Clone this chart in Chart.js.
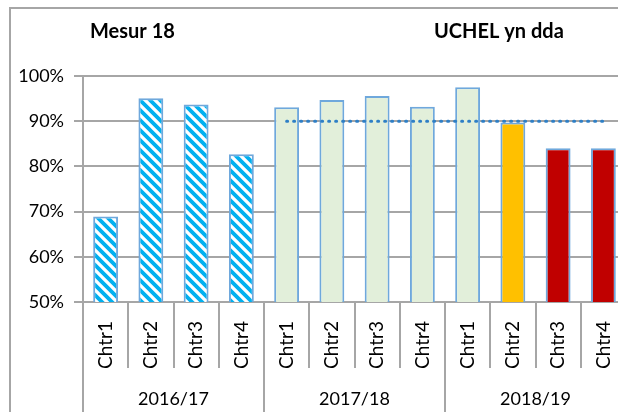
<!DOCTYPE html>
<html>
<head>
<meta charset="utf-8">
<script src="https://cdn.jsdelivr.net/npm/chart.js@4.4.0/dist/chart.umd.min.js"></script>
<style>
    html, body { margin: 0; padding: 0; background: #fff; overflow: hidden; width: 618px; height: 412px; }
    #wrap { width: 640px; height: 420px; }
</style>
</head>
<body>
<div id="wrap"><canvas id="barChart" width="640" height="420"></canvas></div>
<script>
// data
const years = ['2016/17', '2017/18', '2018/19'];
const quarters = ['Chtr1', 'Chtr2', 'Chtr3', 'Chtr4'];
const values = [68.9, 95.1, 93.7, 82.7, 93.1, 94.7, 95.6, 93.2, 97.5, 89.7, 84.0, 84.0];
const target = [null, null, null, null, 90, 90, 90, 90, 90, 90, 90, 90];
const yTicks = [50, 60, 70, 80, 90, 100];
const titleLeft = 'Mesur 18';
const titleRight = 'UCHEL yn dda';

const labels = years.flatMap(() => quarters);

// striped fill for the first year
function hatch() {
    const n = 10;
    const c = document.createElement('canvas');
    c.width = n; c.height = n;
    const g = c.getContext('2d');
    g.fillStyle = '#fff';
    g.fillRect(0, 0, n, n);
    g.strokeStyle = '#00B0F0';
    g.lineWidth = 3.8;
    g.beginPath();
    for (let k = -1; k <= 1; k++) {
        g.moveTo(-2, -2 + k * n);
        g.lineTo(n + 2, n + 2 + k * n);
    }
    g.stroke();
    return g.createPattern(c, 'repeat');
}

const ctx = document.getElementById('barChart').getContext('2d');
const stripes = hatch();
const fills = values.map((v, i) => {
    if (i < 4) return stripes;
    if (i < 9) return '#E2EFDA';
    if (i === 9) return '#FFC000';
    return '#C00000';
});

Chart.defaults.font.family = 'Lato, "Noto Sans", sans-serif';
Chart.defaults.color = '#000';

const grey = '#A6A6A6';

// outer frame, label separators and the two headings
const frame = {
    id: 'frame',
    beforeDraw(chart) {
        const c = chart.ctx;
        c.save();
        c.fillStyle = '#fff';
        c.fillRect(0, 0, chart.width, chart.height);
        c.strokeStyle = grey;
        c.lineWidth = 2;
        c.strokeRect(10, 8, chart.width + 20, chart.height + 20);
        c.restore();
    },
    afterDraw(chart) {
        const c = chart.ctx;
        const xs = chart.scales.x;
        const area = chart.chartArea;
        const w = xs.getPixelForValue(1) - xs.getPixelForValue(0);
        c.save();
        c.strokeStyle = grey;
        c.lineWidth = 2;
        c.beginPath();
        for (let i = 0; i <= labels.length; i++) {
            const bx = Math.round(xs.getPixelForValue(0) - w / 2 + i * w);
            const end = (i % quarters.length === 0) ? chart.height : xs.bottom;
            c.moveTo(bx, area.bottom);
            c.lineTo(bx, end);
        }
        c.stroke();

        c.fillStyle = '#000';
        c.font = 'bold 20px Lato, "Noto Sans", sans-serif';
        c.textBaseline = 'middle';
        c.fillText(titleLeft, 90, 32);
        c.fillText(titleRight, 434, 32);
        c.restore();
    }
};

new Chart(ctx, {
    type: 'bar',
    data: {
        labels: labels,
        datasets: [
            {
                type: 'line',
                data: target,
                borderColor: '#2E7FC6',
                borderWidth: 3,
                borderDash: [1, 6],
                borderCapStyle: 'round',
                pointRadius: 0,
                order: 0
            },
            {
                data: values,
                backgroundColor: fills,
                borderColor: '#6FA8DC',
                borderWidth: 2,
                barPercentage: 0.55,
                categoryPercentage: 1,
                order: 1
            }
        ]
    },
    options: {
        responsive: false,
        animation: false,
        layout: { padding: { left: 10, top: 76, right: 14, bottom: 0 } },
        plugins: { legend: { display: false }, tooltip: { enabled: false } },
        scales: {
            x: {
                offset: true,
                grid: { display: false },
                border: { color: grey, width: 2 },
                ticks: { minRotation: 90, maxRotation: 90, autoSkip: false, padding: 11, font: { size: 19 } },
                afterFit: (s) => { s.height = 66; }
            },
            x2: {
                type: 'category',
                labels: years,
                offset: true,
                position: 'bottom',
                grid: { display: false },
                border: { display: false },
                ticks: { padding: 12, font: { size: 18 } },
                afterFit: (s) => { s.height = 52; }
            },
            y: {
                min: 50,
                max: 100,
                afterBuildTicks: (s) => { s.ticks = yTicks.map(v => ({ value: v })); },
                ticks: { callback: (v) => v + '%', padding: 10, font: { size: 18 } },
                grid: { color: grey, lineWidth: 2, tickLength: 9 },
                border: { color: grey, width: 2 },
                afterFit: (s) => { s.width = 73; }
            }
        }
    },
    plugins: [frame]
});
</script>
</body>
</html>
